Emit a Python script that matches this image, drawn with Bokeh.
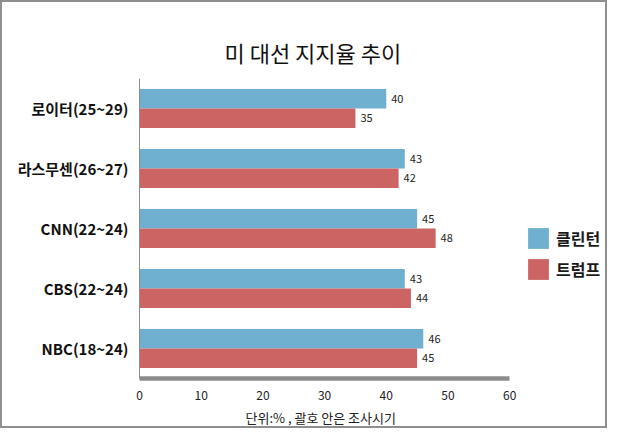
from bokeh.plotting import figure
from bokeh.models import FactorRange, Range1d, Legend, LegendItem, ColumnDataSource, Title
from bokeh.transform import dodge
from bokeh.embed import file_html
from bokeh.resources import INLINE
from bokeh.core.properties import value

# ---- data ----
title_text = "미 대선 지지율 추이"
categories = ["로이터(25~29)", "라스무센(26~27)", "CNN(22~24)", "CBS(22~24)", "NBC(18~24)"]
clinton = [40, 43, 45, 43, 46]
trump = [35, 42, 48, 44, 45]
series_names = ["클린턴", "트럼프"]
x_ticks = [0, 10, 20, 30, 40, 50, 60]
caption = "단위:% , 괄호 안은 조사시기"

KR = "Noto Sans CJK KR"
BLUE = "#6FAFCF"
RED = "#CC6464"
DODGE = 0.1635
BAR_H = 0.327

W, H = 603, 424            # + 2px CSS border on each side -> 607 x 428
LEFT, TOP, AXIS_END_PX, BOTTOM = 137, 76, 504, 373
x_max = x_ticks[-1]
x_end = x_max * (W - LEFT) / (AXIS_END_PX - LEFT)   # frame extends past 60 to hold the legend

src = ColumnDataSource(dict(
    cat=categories,
    clinton=clinton,
    trump=trump,
    clinton_txt=[str(v) for v in clinton],
    trump_txt=[str(v) for v in trump],
))

p = figure(
    width=W, height=H,
    y_range=FactorRange(factors=categories[::-1]),
    x_range=Range1d(0, x_end),
    output_backend="svg", toolbar_location=None,
    min_border_left=LEFT, min_border_right=0,
    min_border_top=TOP, min_border_bottom=H - BOTTOM,
)
p.styles = {"border": "2px solid #8f8f8f", "box-sizing": "content-box"}

r1 = p.hbar(y=dodge("cat", DODGE, range=p.y_range), left=0, right="clinton", height=BAR_H,
            fill_color=BLUE, line_color=None, source=src)
r2 = p.hbar(y=dodge("cat", -DODGE, range=p.y_range), left=0, right="trump", height=BAR_H,
            fill_color=RED, line_color=None, source=src)

p.text(x="clinton", y=dodge("cat", DODGE, range=p.y_range), text="clinton_txt", source=src,
       x_offset=5, text_baseline="middle", text_align="left",
       text_font=value(KR), text_font_size="11px", text_color="#222222")
p.text(x="trump", y=dodge("cat", -DODGE, range=p.y_range), text="trump_txt", source=src,
       x_offset=5, text_baseline="middle", text_align="left",
       text_font=value(KR), text_font_size="11px", text_color="#222222")

legend = Legend(
    items=[LegendItem(label=series_names[0], renderers=[r1]),
           LegendItem(label=series_names[1], renderers=[r2])],
    location=(386, 96),
    glyph_width=26, glyph_height=26, spacing=5, padding=0, margin=0,
    label_standoff=5, border_line_color=None, background_fill_alpha=0,
    label_text_font=KR, label_text_font_size="16px", label_text_font_style="bold",
    label_text_color="#1a1a1a",
)
p.add_layout(legend, "center")

p.title.text = title_text
p.title.align = "left"
p.title.offset = 85
p.title.text_font = KR
p.title.text_font_size = "22px"
p.title.text_font_style = "normal"
p.title.text_color = "#111111"
p.title.standoff = 21

p.xaxis.ticker = x_ticks
p.xaxis.bounds = (0, x_max)
p.xaxis.axis_line_width = 4.5
p.xaxis.axis_line_color = "#8c8c8c"
p.xaxis.major_tick_line_color = None
p.xaxis.minor_tick_line_color = None
p.xaxis.major_tick_out = 0
p.xaxis.minor_tick_out = 0
p.xaxis.major_tick_in = 0
p.xaxis.major_label_text_font = KR
p.xaxis.major_label_text_font_size = "12px"
p.xaxis.major_label_text_color = "#222222"
p.xaxis.major_label_standoff = 12

p.yaxis.axis_line_color = "#8c8c8c"
p.yaxis.axis_line_width = 1
p.yaxis.major_tick_line_color = None
p.yaxis.minor_tick_line_color = None
p.yaxis.major_tick_out = 0
p.yaxis.major_tick_in = 0
p.yaxis.major_label_text_font = KR
p.yaxis.major_label_text_font_size = "15px"
p.yaxis.major_label_text_font_style = "bold"
p.yaxis.major_label_text_color = "#111111"
p.yaxis.major_label_standoff = 11

p.add_layout(Title(text=caption, align="left", offset=106, text_font=KR, text_font_size="13px",
                   text_font_style="normal", text_color="#222222", standoff=7), "below")

p.xgrid.grid_line_color = None
p.ygrid.grid_line_color = None
p.outline_line_color = None

open("out.html", "w").write(file_html(p, INLINE))
